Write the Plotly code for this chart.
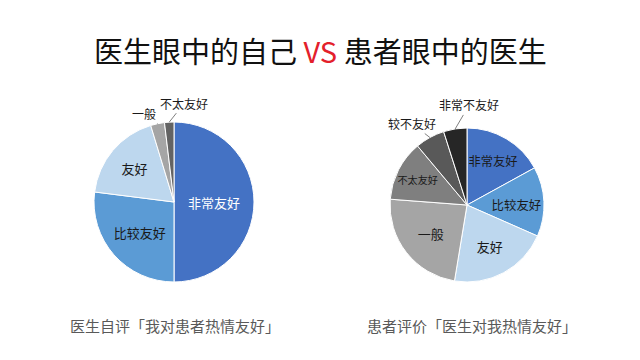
import math
import plotly.graph_objects as go

# Left pie: doctors' self-assessment
left_labels = ["非常友好", "比较友好", "友好", "一般", "不太友好"]
left_values = [50.0, 27.0, 18.3, 2.8, 1.9]
left_colors = ["#4472C4", "#5B9BD5", "#BDD7EE", "#A5A5A5", "#636363"]
left_inside = [True, True, True, False, False]
left_textcolor = ["#FFFFFF", "#1a1a1a", "#1a1a1a", "#1a1a1a", "#1a1a1a"]
# outside label offsets (px) from slice edge
left_label_offsets = {"一般": (-14, -10), "不太友好": (15, -19)}

# Right pie: patients' evaluation
right_labels = ["非常友好", "比较友好", "友好", "一般", "不太友好", "较不友好", "非常不友好"]
right_values = [17.0, 14.6, 21.0, 23.6, 12.7, 6.2, 4.9]
right_colors = ["#4472C4", "#5B9BD5", "#BDD7EE", "#A5A5A5", "#7F7F7F", "#595959", "#262626"]
right_inside = [True, True, True, True, True, False, False]
right_textcolor = ["#1a1a1a"] * 7
right_label_offsets = {"较不友好": (-18, -14), "非常不友好": (14, -24)}

title_left = "医生眼中的自己"
title_vs = "VS"
title_right = "患者眼中的医生"
caption_left = "医生自评「我对患者热情友好」"
caption_right = "患者评价「医生对我热情友好」"

FONT = "Noto Sans CJK SC, Microsoft YaHei, sans-serif"
W, H = 640, 360

fig = go.Figure()

def px_domain(cx, cy, r):
    return dict(x=[(cx - r) / W, (cx + r) / W], y=[1 - (cy + r) / H, 1 - (cy - r) / H])

def add_pie(labels, values, colors, inside, tcolors, cx, cy, r, offsets):
    texts = [l if ins else "" for l, ins in zip(labels, inside)]
    fig.add_trace(go.Pie(
        labels=labels, values=values, text=texts, sort=False, direction="clockwise", rotation=0,
        marker=dict(colors=colors, line=dict(color="white", width=1)),
        textinfo="text", textposition="inside", insidetextorientation="horizontal",
        textfont=dict(family=FONT, size=13, color=tcolors),
        domain=px_domain(cx, cy, r), showlegend=False, hoverinfo="label+percent",
    ))
    total = sum(values)
    cum = 0.0
    for lab, v, ins in zip(labels, values, inside):
        mid = (cum + v / 2) / total * 2 * math.pi
        cum += v
        if ins:
            continue
        ex = cx + r * math.sin(mid)
        ey = cy - r * math.cos(mid)
        dx, dy = offsets[lab]
        fig.add_annotation(
            text=lab, x=ex / W, y=1 - ey / H, xref="paper", yref="paper",
            ax=dx, ay=dy, showarrow=True, arrowhead=0, arrowwidth=1, arrowcolor="#7f7f7f",
            standoff=0, font=dict(family=FONT, size=12, color="#1a1a1a"),
        )

add_pie(left_labels, left_values, left_colors, left_inside, left_textcolor, 174, 202, 80, left_label_offsets)
add_pie(right_labels, right_values, right_colors, right_inside, right_textcolor, 467, 205, 77, right_label_offsets)

fig.add_annotation(
    text=f"{title_left} <span style='color:#E3202B'>{title_vs}</span> {title_right}",
    x=0.5, y=1 - 50 / H, xref="paper", yref="paper", showarrow=False,
    font=dict(family=FONT, size=29, color="#111111"), xanchor="center", yanchor="middle",
)
fig.add_annotation(text=caption_left, x=175 / W, y=1 - 325 / H, xref="paper", yref="paper",
                   xanchor="center", yanchor="middle",
                   showarrow=False, font=dict(family=FONT, size=15, color="#595959"))
fig.add_annotation(text=caption_right, x=472 / W, y=1 - 325 / H, xref="paper", yref="paper",
                   xanchor="center", yanchor="middle",
                   showarrow=False, font=dict(family=FONT, size=15, color="#595959"))

fig.update_layout(
    width=W, height=H, margin=dict(l=0, r=0, t=0, b=0),
    paper_bgcolor="white", plot_bgcolor="white",
)
fig.write_html("out.html", config={"displayModeBar": False},
               post_script="document.body.style.margin='0';")
